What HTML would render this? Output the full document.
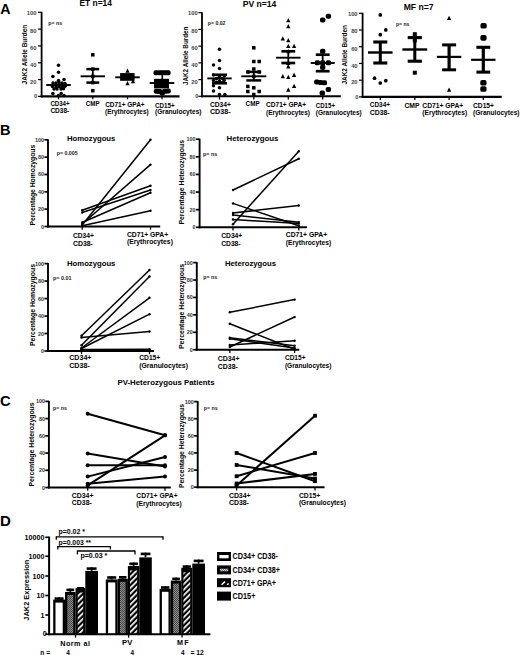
<!DOCTYPE html>
<html><head><meta charset="utf-8"><title>Figure</title>
<style>html,body{margin:0;padding:0;background:#fff;width:520px;height:655px;overflow:hidden}svg{display:block}text{font-family:"Liberation Sans",sans-serif}</style>
</head><body>
<svg width="520" height="655" viewBox="0 0 520 655" font-family='"Liberation Sans", sans-serif'>
<defs><pattern id="chk" width="2" height="2" patternUnits="userSpaceOnUse"><rect width="2" height="2" fill="#8c8c8c"/><rect width="1" height="1" fill="#474747"/><rect x="1" y="1" width="1" height="1" fill="#474747"/></pattern><pattern id="chk2" width="2" height="2" patternUnits="userSpaceOnUse"><rect width="2" height="2" fill="#d0d0d0"/><rect width="1" height="1" fill="#707070"/><rect x="1" y="1" width="1" height="1" fill="#707070"/></pattern><pattern id="hat" width="3.9" height="3.9" patternUnits="userSpaceOnUse" patternTransform="rotate(45)"><rect width="3.9" height="3.9" fill="#000"/><rect x="0" y="0" width="1.7" height="3.9" fill="#fff"/></pattern></defs>
<rect width="520" height="655" fill="#fff"/>
<text x="0.30" y="14.40" font-size="14.2" font-weight="bold" >A</text>
<line x1="41.60" y1="11.80" x2="41.60" y2="97.40" stroke="#000" stroke-width="1.8"/>
<line x1="40.60" y1="96.40" x2="179.60" y2="96.40" stroke="#000" stroke-width="2.1"/>
<line x1="38.00" y1="96.40" x2="41.60" y2="96.40" stroke="#000" stroke-width="1.2"/>
<text x="37.20" y="98.20" font-size="5.8" font-weight="bold" text-anchor="end" fill="#444">0</text>
<line x1="38.00" y1="79.58" x2="41.60" y2="79.58" stroke="#000" stroke-width="1.2"/>
<text x="36.40" y="83.68" font-size="5.8" font-weight="bold" text-anchor="end" fill="#444">20</text>
<line x1="38.00" y1="62.76" x2="41.60" y2="62.76" stroke="#000" stroke-width="1.2"/>
<text x="36.40" y="67.36" font-size="5.8" font-weight="bold" text-anchor="end" fill="#444">40</text>
<line x1="38.00" y1="45.94" x2="41.60" y2="45.94" stroke="#000" stroke-width="1.2"/>
<text x="36.40" y="50.04" font-size="5.8" font-weight="bold" text-anchor="end" fill="#444">60</text>
<line x1="38.00" y1="29.12" x2="41.60" y2="29.12" stroke="#000" stroke-width="1.2"/>
<text x="36.40" y="32.52" font-size="5.8" font-weight="bold" text-anchor="end" fill="#444">80</text>
<line x1="38.00" y1="12.30" x2="41.60" y2="12.30" stroke="#000" stroke-width="1.2"/>
<text x="36.40" y="14.90" font-size="5.8" font-weight="bold" text-anchor="end" fill="#444">100</text>
<text x="79.50" y="6.30" font-size="8.6" font-weight="bold" textLength="32.40" lengthAdjust="spacingAndGlyphs" >ET n=14</text>
<text x="48.20" y="25.30" font-size="6.2" font-weight="bold" textLength="13.90" lengthAdjust="spacingAndGlyphs" fill="#1a1a1a">p= ns</text>
<text x="26.88" y="54.60" font-size="6.6" font-weight="bold" text-anchor="middle" textLength="59.60" lengthAdjust="spacingAndGlyphs" transform="rotate(-90 26.88 54.60)" >JAK2 Allele Burden</text>
<line x1="58.50" y1="96.00" x2="58.50" y2="99.30" stroke="#000" stroke-width="1.3"/>
<line x1="92.80" y1="96.00" x2="92.80" y2="99.30" stroke="#000" stroke-width="1.3"/>
<line x1="127.50" y1="96.00" x2="127.50" y2="99.30" stroke="#000" stroke-width="1.3"/>
<line x1="162.00" y1="96.00" x2="162.00" y2="99.30" stroke="#000" stroke-width="1.3"/>
<circle cx="58.50" cy="65.20" r="1.75"/>
<circle cx="58.50" cy="72.30" r="1.75"/>
<circle cx="52.90" cy="76.50" r="1.75"/>
<circle cx="64.00" cy="79.40" r="1.75"/>
<circle cx="58.50" cy="80.60" r="1.75"/>
<circle cx="53.00" cy="83.00" r="1.75"/>
<circle cx="56.00" cy="83.00" r="1.75"/>
<circle cx="59.00" cy="82.60" r="1.75"/>
<circle cx="62.00" cy="83.00" r="1.75"/>
<circle cx="65.00" cy="83.40" r="1.75"/>
<circle cx="52.50" cy="86.50" r="1.75"/>
<circle cx="56.00" cy="87.00" r="1.75"/>
<circle cx="59.00" cy="86.50" r="1.75"/>
<circle cx="62.00" cy="87.30" r="1.75"/>
<circle cx="65.00" cy="86.20" r="1.75"/>
<circle cx="54.00" cy="89.00" r="1.75"/>
<circle cx="57.00" cy="89.00" r="1.75"/>
<circle cx="61.00" cy="89.00" r="1.75"/>
<circle cx="63.50" cy="88.80" r="1.75"/>
<circle cx="52.90" cy="93.50" r="1.75"/>
<circle cx="61.20" cy="93.50" r="1.75"/>
<circle cx="58.50" cy="95.60" r="1.75"/>
<circle cx="64.00" cy="95.60" r="1.75"/>
<line x1="46.20" y1="85.00" x2="70.80" y2="85.00" stroke="#000" stroke-width="1.9"/>
<rect x="91.05" y="53.05" width="3.50" height="3.50" fill="#000" />
<rect x="91.05" y="67.35" width="3.50" height="3.50" fill="#000" />
<rect x="91.05" y="74.55" width="3.50" height="3.50" fill="#000" />
<rect x="91.05" y="80.85" width="3.50" height="3.50" fill="#000" />
<rect x="91.05" y="88.95" width="3.50" height="3.50" fill="#000" />
<line x1="80.60" y1="76.30" x2="105.00" y2="76.30" stroke="#000" stroke-width="1.9"/>
<line x1="86.40" y1="69.10" x2="99.20" y2="69.10" stroke="#000" stroke-width="2.5"/>
<line x1="86.40" y1="82.60" x2="99.20" y2="82.60" stroke="#000" stroke-width="2.5"/>
<line x1="92.80" y1="69.10" x2="92.80" y2="82.60" stroke="#000" stroke-width="1.8"/>
<polygon points="127.50,68.42 129.65,72.68 125.35,72.68"/>
<polygon points="127.50,81.02 129.65,85.28 125.35,85.28"/>
<polygon points="133.00,78.92 135.15,83.18 130.85,83.18"/>
<line x1="115.20" y1="77.30" x2="139.80" y2="77.30" stroke="#000" stroke-width="1.9"/>
<rect x="120.10" y="73.10" width="14.50" height="7.70" fill="#000" />
<rect x="153.50" y="70.20" width="5.40" height="5.00" fill="#000" rx="1.9"/>
<rect x="156.80" y="70.20" width="5.40" height="5.00" fill="#000" rx="1.9"/>
<rect x="159.60" y="70.20" width="5.40" height="5.00" fill="#000" rx="1.9"/>
<rect x="162.50" y="70.20" width="5.40" height="5.00" fill="#000" rx="1.9"/>
<rect x="165.20" y="70.20" width="5.40" height="5.00" fill="#000" rx="1.9"/>
<rect x="153.80" y="88.70" width="5.40" height="5.00" fill="#000" rx="1.9"/>
<rect x="156.90" y="89.10" width="5.40" height="5.00" fill="#000" rx="1.9"/>
<rect x="162.10" y="88.80" width="5.40" height="5.00" fill="#000" rx="1.9"/>
<rect x="165.40" y="88.50" width="5.40" height="5.00" fill="#000" rx="1.9"/>
<rect x="159.60" y="90.50" width="5.40" height="5.00" fill="#000" rx="1.9"/>
<rect x="154.00" y="78.80" width="15.00" height="9.60" fill="#000" />
<line x1="162.30" y1="74.00" x2="162.30" y2="79.00" stroke="#000" stroke-width="1.6"/>
<line x1="149.70" y1="83.00" x2="174.30" y2="83.00" stroke="#000" stroke-width="1.9"/>
<line x1="202.00" y1="12.20" x2="202.00" y2="97.30" stroke="#000" stroke-width="1.8"/>
<line x1="201.00" y1="96.30" x2="340.80" y2="96.30" stroke="#000" stroke-width="2.1"/>
<line x1="198.40" y1="96.30" x2="202.00" y2="96.30" stroke="#000" stroke-width="1.2"/>
<text x="198.50" y="98.10" font-size="5.8" font-weight="bold" text-anchor="end" fill="#444">0</text>
<line x1="198.40" y1="79.58" x2="202.00" y2="79.58" stroke="#000" stroke-width="1.2"/>
<text x="197.70" y="83.68" font-size="5.8" font-weight="bold" text-anchor="end" fill="#444">20</text>
<line x1="198.40" y1="62.86" x2="202.00" y2="62.86" stroke="#000" stroke-width="1.2"/>
<text x="197.70" y="67.46" font-size="5.8" font-weight="bold" text-anchor="end" fill="#444">40</text>
<line x1="198.40" y1="46.14" x2="202.00" y2="46.14" stroke="#000" stroke-width="1.2"/>
<text x="197.70" y="50.24" font-size="5.8" font-weight="bold" text-anchor="end" fill="#444">60</text>
<line x1="198.40" y1="29.42" x2="202.00" y2="29.42" stroke="#000" stroke-width="1.2"/>
<text x="197.70" y="32.82" font-size="5.8" font-weight="bold" text-anchor="end" fill="#444">80</text>
<line x1="198.40" y1="12.70" x2="202.00" y2="12.70" stroke="#000" stroke-width="1.2"/>
<text x="197.70" y="15.30" font-size="5.8" font-weight="bold" text-anchor="end" fill="#444">100</text>
<text x="242.70" y="7.20" font-size="8.6" font-weight="bold" textLength="33.60" lengthAdjust="spacingAndGlyphs" >PV n=14</text>
<text x="207.80" y="24.60" font-size="6.2" font-weight="bold" textLength="17.60" lengthAdjust="spacingAndGlyphs" fill="#1a1a1a">p= 0.02</text>
<text x="187.88" y="55.80" font-size="6.6" font-weight="bold" text-anchor="middle" textLength="58.60" lengthAdjust="spacingAndGlyphs" transform="rotate(-90 187.88 55.80)" >JAK2 Allele Burden</text>
<line x1="219.50" y1="96.30" x2="219.50" y2="99.50" stroke="#000" stroke-width="1.3"/>
<line x1="253.80" y1="96.30" x2="253.80" y2="99.50" stroke="#000" stroke-width="1.3"/>
<line x1="288.30" y1="96.30" x2="288.30" y2="99.50" stroke="#000" stroke-width="1.3"/>
<line x1="322.70" y1="96.30" x2="322.70" y2="99.50" stroke="#000" stroke-width="1.3"/>
<circle cx="219.50" cy="49.20" r="1.75"/>
<circle cx="219.50" cy="60.50" r="1.75"/>
<circle cx="213.50" cy="64.90" r="1.75"/>
<circle cx="219.50" cy="68.50" r="1.75"/>
<circle cx="213.50" cy="75.00" r="1.75"/>
<circle cx="219.50" cy="76.50" r="1.75"/>
<circle cx="224.50" cy="76.00" r="1.75"/>
<circle cx="213.50" cy="80.40" r="1.75"/>
<circle cx="224.20" cy="80.40" r="1.75"/>
<circle cx="219.50" cy="81.00" r="1.75"/>
<circle cx="213.50" cy="85.80" r="1.75"/>
<circle cx="219.50" cy="87.80" r="1.75"/>
<circle cx="213.50" cy="90.90" r="1.75"/>
<circle cx="219.50" cy="94.50" r="1.75"/>
<circle cx="224.90" cy="94.50" r="1.75"/>
<circle cx="216.50" cy="78.50" r="1.75"/>
<circle cx="222.50" cy="78.50" r="1.75"/>
<circle cx="216.50" cy="82.30" r="1.75"/>
<circle cx="222.50" cy="82.50" r="1.75"/>
<line x1="207.30" y1="78.40" x2="231.70" y2="78.40" stroke="#000" stroke-width="1.9"/>
<line x1="212.00" y1="74.70" x2="227.00" y2="74.70" stroke="#000" stroke-width="2.5"/>
<line x1="212.00" y1="83.30" x2="227.00" y2="83.30" stroke="#000" stroke-width="2.5"/>
<line x1="219.50" y1="74.70" x2="219.50" y2="83.30" stroke="#000" stroke-width="1.8"/>
<rect x="252.05" y="46.05" width="3.50" height="3.50" fill="#000" />
<rect x="252.05" y="59.75" width="3.50" height="3.50" fill="#000" />
<rect x="257.45" y="59.75" width="3.50" height="3.50" fill="#000" />
<rect x="252.05" y="67.25" width="3.50" height="3.50" fill="#000" />
<rect x="246.25" y="70.25" width="3.50" height="3.50" fill="#000" />
<rect x="257.45" y="70.25" width="3.50" height="3.50" fill="#000" />
<rect x="252.05" y="74.55" width="3.50" height="3.50" fill="#000" />
<rect x="246.05" y="84.65" width="3.50" height="3.50" fill="#000" />
<rect x="252.05" y="86.05" width="3.50" height="3.50" fill="#000" />
<rect x="246.05" y="89.75" width="3.50" height="3.50" fill="#000" />
<rect x="257.45" y="89.75" width="3.50" height="3.50" fill="#000" />
<rect x="252.05" y="92.75" width="3.50" height="3.50" fill="#000" />
<line x1="241.30" y1="76.30" x2="266.30" y2="76.30" stroke="#000" stroke-width="1.9"/>
<line x1="246.40" y1="71.90" x2="261.20" y2="71.90" stroke="#000" stroke-width="2.5"/>
<line x1="246.40" y1="80.40" x2="261.20" y2="80.40" stroke="#000" stroke-width="2.5"/>
<line x1="253.80" y1="71.90" x2="253.80" y2="80.40" stroke="#000" stroke-width="1.8"/>
<polygon points="288.30,18.02 290.45,22.28 286.15,22.28"/>
<polygon points="288.30,23.92 290.45,28.18 286.15,28.18"/>
<polygon points="282.80,36.32 284.95,40.58 280.65,40.58"/>
<polygon points="288.30,38.02 290.45,42.28 286.15,42.28"/>
<polygon points="288.30,43.72 290.45,47.98 286.15,47.98"/>
<polygon points="294.10,43.72 296.25,47.98 291.95,47.98"/>
<polygon points="288.30,49.02 290.45,53.28 286.15,53.28"/>
<polygon points="288.30,60.72 290.45,64.98 286.15,64.98"/>
<polygon points="288.30,64.12 290.45,68.38 286.15,68.38"/>
<polygon points="282.80,74.02 284.95,78.28 280.65,78.28"/>
<polygon points="288.30,74.82 290.45,79.08 286.15,79.08"/>
<polygon points="294.10,72.62 296.25,76.88 291.95,76.88"/>
<polygon points="294.10,83.72 296.25,87.98 291.95,87.98"/>
<polygon points="288.30,87.52 290.45,91.78 286.15,91.78"/>
<line x1="276.10" y1="57.70" x2="300.50" y2="57.70" stroke="#000" stroke-width="1.9"/>
<line x1="281.40" y1="51.30" x2="295.20" y2="51.30" stroke="#000" stroke-width="2.7"/>
<line x1="281.40" y1="63.00" x2="295.20" y2="63.00" stroke="#000" stroke-width="2.7"/>
<line x1="288.30" y1="51.30" x2="288.30" y2="63.00" stroke="#000" stroke-width="1.8"/>
<rect x="320.00" y="17.40" width="5.40" height="5.00" fill="#000" rx="1.9"/>
<rect x="325.70" y="13.70" width="5.40" height="5.00" fill="#000" rx="1.9"/>
<rect x="320.00" y="48.80" width="5.40" height="5.00" fill="#000" rx="1.9"/>
<rect x="314.70" y="60.30" width="5.40" height="5.00" fill="#000" rx="1.9"/>
<rect x="320.00" y="60.30" width="5.40" height="5.00" fill="#000" rx="1.9"/>
<rect x="325.70" y="60.30" width="5.40" height="5.00" fill="#000" rx="1.9"/>
<rect x="320.00" y="64.80" width="5.40" height="5.00" fill="#000" rx="1.9"/>
<rect x="314.10" y="79.50" width="5.40" height="5.00" fill="#000" rx="1.9"/>
<rect x="317.80" y="80.00" width="5.40" height="5.00" fill="#000" rx="1.9"/>
<rect x="321.60" y="80.30" width="5.40" height="5.00" fill="#000" rx="1.9"/>
<rect x="325.70" y="86.90" width="5.40" height="5.00" fill="#000" rx="1.9"/>
<rect x="319.60" y="90.60" width="5.40" height="5.00" fill="#000" rx="1.9"/>
<line x1="310.70" y1="63.00" x2="334.70" y2="63.00" stroke="#000" stroke-width="1.9"/>
<line x1="315.80" y1="54.70" x2="329.60" y2="54.70" stroke="#000" stroke-width="2.7"/>
<line x1="315.80" y1="71.20" x2="329.60" y2="71.20" stroke="#000" stroke-width="2.7"/>
<line x1="322.70" y1="54.70" x2="322.70" y2="71.20" stroke="#000" stroke-width="1.8"/>
<line x1="362.60" y1="12.80" x2="362.60" y2="97.90" stroke="#000" stroke-width="1.8"/>
<line x1="361.60" y1="96.90" x2="501.70" y2="96.90" stroke="#000" stroke-width="2.1"/>
<line x1="359.00" y1="96.90" x2="362.60" y2="96.90" stroke="#000" stroke-width="1.2"/>
<text x="358.40" y="98.70" font-size="5.8" font-weight="bold" text-anchor="end" fill="#444">0</text>
<line x1="359.00" y1="80.18" x2="362.60" y2="80.18" stroke="#000" stroke-width="1.2"/>
<text x="357.60" y="84.28" font-size="5.8" font-weight="bold" text-anchor="end" fill="#444">20</text>
<line x1="359.00" y1="63.46" x2="362.60" y2="63.46" stroke="#000" stroke-width="1.2"/>
<text x="357.60" y="68.06" font-size="5.8" font-weight="bold" text-anchor="end" fill="#444">40</text>
<line x1="359.00" y1="46.74" x2="362.60" y2="46.74" stroke="#000" stroke-width="1.2"/>
<text x="357.60" y="50.84" font-size="5.8" font-weight="bold" text-anchor="end" fill="#444">60</text>
<line x1="359.00" y1="30.02" x2="362.60" y2="30.02" stroke="#000" stroke-width="1.2"/>
<text x="357.60" y="33.42" font-size="5.8" font-weight="bold" text-anchor="end" fill="#444">80</text>
<line x1="359.00" y1="13.30" x2="362.60" y2="13.30" stroke="#000" stroke-width="1.2"/>
<text x="357.60" y="15.90" font-size="5.8" font-weight="bold" text-anchor="end" fill="#444">100</text>
<text x="403.70" y="9.60" font-size="8.4" font-weight="bold" textLength="29.80" lengthAdjust="spacingAndGlyphs" >MF n=7</text>
<text x="396.00" y="25.70" font-size="6.2" font-weight="bold" textLength="13.40" lengthAdjust="spacingAndGlyphs" fill="#1a1a1a">p= ns</text>
<text x="347.28" y="54.80" font-size="6.6" font-weight="bold" text-anchor="middle" textLength="59.40" lengthAdjust="spacingAndGlyphs" transform="rotate(-90 347.28 54.80)" >JAK2 Allele Burden</text>
<line x1="380.30" y1="96.80" x2="380.30" y2="100.00" stroke="#000" stroke-width="1.3"/>
<line x1="414.80" y1="96.80" x2="414.80" y2="100.00" stroke="#000" stroke-width="1.3"/>
<line x1="449.10" y1="96.80" x2="449.10" y2="100.00" stroke="#000" stroke-width="1.3"/>
<line x1="483.30" y1="96.80" x2="483.30" y2="100.00" stroke="#000" stroke-width="1.3"/>
<circle cx="380.30" cy="14.90" r="1.85"/>
<circle cx="385.80" cy="29.90" r="1.85"/>
<circle cx="380.30" cy="34.70" r="1.85"/>
<circle cx="374.50" cy="78.20" r="1.85"/>
<circle cx="380.30" cy="83.00" r="1.85"/>
<circle cx="385.80" cy="80.70" r="1.85"/>
<line x1="368.00" y1="52.50" x2="392.60" y2="52.50" stroke="#000" stroke-width="2.4"/>
<line x1="373.30" y1="42.00" x2="387.30" y2="42.00" stroke="#000" stroke-width="3.1"/>
<line x1="373.30" y1="63.00" x2="387.30" y2="63.00" stroke="#000" stroke-width="3.1"/>
<line x1="380.30" y1="42.00" x2="380.30" y2="63.00" stroke="#000" stroke-width="3.0"/>
<rect x="412.80" y="32.20" width="4.00" height="4.00" fill="#000" />
<rect x="412.80" y="38.40" width="4.00" height="4.00" fill="#000" />
<rect x="412.80" y="70.70" width="4.00" height="4.00" fill="#000" />
<line x1="402.40" y1="49.50" x2="427.20" y2="49.50" stroke="#000" stroke-width="2.4"/>
<line x1="407.70" y1="37.60" x2="421.90" y2="37.60" stroke="#000" stroke-width="3.1"/>
<line x1="407.70" y1="61.20" x2="421.90" y2="61.20" stroke="#000" stroke-width="3.1"/>
<line x1="414.80" y1="37.60" x2="414.80" y2="61.20" stroke="#000" stroke-width="3.0"/>
<polygon points="449.10,15.72 451.25,19.98 446.95,19.98"/>
<polygon points="449.10,87.52 451.25,91.78 446.95,91.78"/>
<line x1="436.90" y1="56.90" x2="461.30" y2="56.90" stroke="#000" stroke-width="2.2"/>
<line x1="442.10" y1="44.90" x2="456.10" y2="44.90" stroke="#000" stroke-width="3.0"/>
<line x1="442.10" y1="69.80" x2="456.10" y2="69.80" stroke="#000" stroke-width="3.0"/>
<line x1="449.10" y1="44.90" x2="449.10" y2="69.80" stroke="#000" stroke-width="3.2"/>
<rect x="480.45" y="23.00" width="6.30" height="5.60" fill="#000" rx="1.9"/>
<rect x="480.35" y="35.10" width="6.30" height="5.60" fill="#000" rx="1.9"/>
<rect x="480.25" y="80.00" width="6.30" height="5.60" fill="#000" rx="1.9"/>
<rect x="480.25" y="86.20" width="6.30" height="5.60" fill="#000" rx="1.9"/>
<line x1="471.10" y1="59.80" x2="495.50" y2="59.80" stroke="#000" stroke-width="2.2"/>
<line x1="476.40" y1="47.30" x2="490.20" y2="47.30" stroke="#000" stroke-width="3.1"/>
<line x1="476.40" y1="72.10" x2="490.20" y2="72.10" stroke="#000" stroke-width="3.1"/>
<line x1="483.30" y1="47.30" x2="483.30" y2="72.10" stroke="#000" stroke-width="3.2"/>
<text x="50.40" y="105.50" font-size="6.4" font-weight="bold" textLength="19.20" lengthAdjust="spacingAndGlyphs" >CD34+</text>
<text x="50.40" y="113.20" font-size="6.4" font-weight="bold" textLength="18.90" lengthAdjust="spacingAndGlyphs" >CD38-</text>
<text x="85.80" y="105.50" font-size="6.4" font-weight="bold" textLength="13.80" lengthAdjust="spacingAndGlyphs" >CMP</text>
<text x="105.20" y="106.90" font-size="6.4" font-weight="bold" textLength="39.40" lengthAdjust="spacingAndGlyphs" >CD71+ GPA+</text>
<text x="105.00" y="114.00" font-size="6.4" font-weight="bold" textLength="43.60" lengthAdjust="spacingAndGlyphs" >(Erythrocytes)</text>
<text x="155.00" y="107.60" font-size="6.4" font-weight="bold" textLength="19.60" lengthAdjust="spacingAndGlyphs" >CD15+</text>
<text x="155.00" y="114.30" font-size="6.4" font-weight="bold" textLength="46.50" lengthAdjust="spacingAndGlyphs" >(Granulocytes)</text>
<text x="210.00" y="106.70" font-size="6.4" font-weight="bold" textLength="20.80" lengthAdjust="spacingAndGlyphs" >CD34+</text>
<text x="210.00" y="114.40" font-size="6.4" font-weight="bold" textLength="20.50" lengthAdjust="spacingAndGlyphs" >CD38-</text>
<text x="245.60" y="105.60" font-size="6.4" font-weight="bold" textLength="14.00" lengthAdjust="spacingAndGlyphs" >CMP</text>
<text x="266.00" y="107.30" font-size="6.4" font-weight="bold" textLength="40.00" lengthAdjust="spacingAndGlyphs" >CD71+ GPA+</text>
<text x="266.00" y="114.80" font-size="6.4" font-weight="bold" textLength="44.00" lengthAdjust="spacingAndGlyphs" >(Erythrocytes)</text>
<text x="315.80" y="107.60" font-size="6.4" font-weight="bold" textLength="19.20" lengthAdjust="spacingAndGlyphs" >CD15+</text>
<text x="315.80" y="114.80" font-size="6.4" font-weight="bold" textLength="46.00" lengthAdjust="spacingAndGlyphs" >(Granulocytes)</text>
<text x="369.80" y="106.90" font-size="6.4" font-weight="bold" textLength="20.20" lengthAdjust="spacingAndGlyphs" >CD34+</text>
<text x="369.80" y="114.70" font-size="6.4" font-weight="bold" textLength="19.80" lengthAdjust="spacingAndGlyphs" >CD38-</text>
<text x="404.40" y="108.40" font-size="6.4" font-weight="bold" textLength="15.00" lengthAdjust="spacingAndGlyphs" >CMP</text>
<text x="422.30" y="107.50" font-size="6.4" font-weight="bold" textLength="41.00" lengthAdjust="spacingAndGlyphs" >CD71+ GPA+</text>
<text x="422.30" y="114.80" font-size="6.4" font-weight="bold" textLength="44.80" lengthAdjust="spacingAndGlyphs" >(Erythrocytes)</text>
<text x="473.00" y="107.70" font-size="6.4" font-weight="bold" textLength="21.00" lengthAdjust="spacingAndGlyphs" >CD15+</text>
<text x="473.00" y="114.90" font-size="6.4" font-weight="bold" textLength="46.50" lengthAdjust="spacingAndGlyphs" >(Granulocytes)</text>
<text x="-0.10" y="134.60" font-size="14.5" font-weight="bold" >B</text>
<line x1="48.00" y1="139.30" x2="48.00" y2="227.50" stroke="#000" stroke-width="1.9"/>
<line x1="47.00" y1="226.50" x2="160.20" y2="226.50" stroke="#000" stroke-width="2.0"/>
<line x1="44.40" y1="226.50" x2="48.00" y2="226.50" stroke="#000" stroke-width="1.7"/>
<text x="44.00" y="228.50" font-size="5.4" font-weight="bold" text-anchor="end" fill="#333">0</text>
<line x1="44.40" y1="209.16" x2="48.00" y2="209.16" stroke="#000" stroke-width="1.7"/>
<text x="44.00" y="211.16" font-size="5.4" font-weight="bold" text-anchor="end" fill="#333">20</text>
<line x1="44.40" y1="191.82" x2="48.00" y2="191.82" stroke="#000" stroke-width="1.7"/>
<text x="44.00" y="193.82" font-size="5.4" font-weight="bold" text-anchor="end" fill="#333">40</text>
<line x1="44.40" y1="174.48" x2="48.00" y2="174.48" stroke="#000" stroke-width="1.7"/>
<text x="44.00" y="176.48" font-size="5.4" font-weight="bold" text-anchor="end" fill="#333">60</text>
<line x1="44.40" y1="157.14" x2="48.00" y2="157.14" stroke="#000" stroke-width="1.7"/>
<text x="44.00" y="159.14" font-size="5.4" font-weight="bold" text-anchor="end" fill="#333">80</text>
<line x1="44.40" y1="139.80" x2="48.00" y2="139.80" stroke="#000" stroke-width="1.7"/>
<text x="44.00" y="141.80" font-size="5.4" font-weight="bold" text-anchor="end" fill="#333">100</text>
<line x1="82.20" y1="226.50" x2="82.20" y2="229.70" stroke="#000" stroke-width="1.3"/>
<line x1="150.50" y1="226.50" x2="150.50" y2="229.70" stroke="#000" stroke-width="1.3"/>
<text x="66.90" y="140.60" font-size="7.4" font-weight="bold" textLength="48.50" lengthAdjust="spacingAndGlyphs" >Homozygous</text>
<text x="56.70" y="155.40" font-size="6.2" font-weight="bold" textLength="21.00" lengthAdjust="spacingAndGlyphs" fill="#1a1a1a">p= 0.005</text>
<text x="34.90" y="185.20" font-size="6.4" font-weight="bold" text-anchor="middle" textLength="80.80" lengthAdjust="spacingAndGlyphs" transform="rotate(-90 34.90 185.20)" >Percentage Homozygous</text>
<line x1="82.20" y1="225.00" x2="150.50" y2="139.70" stroke="#000" stroke-width="1.5"/>
<line x1="82.20" y1="224.00" x2="150.50" y2="164.60" stroke="#000" stroke-width="1.5"/>
<line x1="82.20" y1="210.20" x2="150.50" y2="185.80" stroke="#000" stroke-width="1.5"/>
<line x1="82.20" y1="212.50" x2="150.50" y2="190.00" stroke="#000" stroke-width="1.5"/>
<line x1="82.20" y1="222.50" x2="150.50" y2="192.80" stroke="#000" stroke-width="1.5"/>
<line x1="82.20" y1="225.80" x2="150.50" y2="210.80" stroke="#000" stroke-width="1.5"/>
<circle cx="82.20" cy="225.00" r="1.2"/>
<circle cx="150.50" cy="139.70" r="1.2"/>
<circle cx="82.20" cy="224.00" r="1.2"/>
<circle cx="150.50" cy="164.60" r="1.2"/>
<circle cx="82.20" cy="210.20" r="1.2"/>
<circle cx="150.50" cy="185.80" r="1.2"/>
<circle cx="82.20" cy="212.50" r="1.2"/>
<circle cx="150.50" cy="190.00" r="1.2"/>
<circle cx="82.20" cy="222.50" r="1.2"/>
<circle cx="150.50" cy="192.80" r="1.2"/>
<circle cx="82.20" cy="225.80" r="1.2"/>
<circle cx="150.50" cy="210.80" r="1.2"/>
<text x="72.90" y="237.60" font-size="6.4" font-weight="bold" textLength="21.00" lengthAdjust="spacingAndGlyphs" >CD34+</text>
<text x="72.90" y="245.70" font-size="6.4" font-weight="bold" textLength="20.00" lengthAdjust="spacingAndGlyphs" >CD38-</text>
<text x="126.90" y="236.50" font-size="6.4" font-weight="bold" textLength="41.30" lengthAdjust="spacingAndGlyphs" >CD71+ GPA+</text>
<text x="126.90" y="244.40" font-size="6.4" font-weight="bold" textLength="46.00" lengthAdjust="spacingAndGlyphs" >(Erythrocytes)</text>
<line x1="199.60" y1="138.70" x2="199.60" y2="228.30" stroke="#000" stroke-width="1.9"/>
<line x1="198.60" y1="227.30" x2="307.00" y2="227.30" stroke="#000" stroke-width="2.0"/>
<line x1="196.00" y1="227.30" x2="199.60" y2="227.30" stroke="#000" stroke-width="1.7"/>
<text x="195.60" y="229.30" font-size="5.4" font-weight="bold" text-anchor="end" fill="#333">0</text>
<line x1="196.00" y1="209.68" x2="199.60" y2="209.68" stroke="#000" stroke-width="1.7"/>
<text x="195.60" y="211.68" font-size="5.4" font-weight="bold" text-anchor="end" fill="#333">20</text>
<line x1="196.00" y1="192.06" x2="199.60" y2="192.06" stroke="#000" stroke-width="1.7"/>
<text x="195.60" y="194.06" font-size="5.4" font-weight="bold" text-anchor="end" fill="#333">40</text>
<line x1="196.00" y1="174.44" x2="199.60" y2="174.44" stroke="#000" stroke-width="1.7"/>
<text x="195.60" y="176.44" font-size="5.4" font-weight="bold" text-anchor="end" fill="#333">60</text>
<line x1="196.00" y1="156.82" x2="199.60" y2="156.82" stroke="#000" stroke-width="1.7"/>
<text x="195.60" y="158.82" font-size="5.4" font-weight="bold" text-anchor="end" fill="#333">80</text>
<line x1="196.00" y1="139.20" x2="199.60" y2="139.20" stroke="#000" stroke-width="1.7"/>
<text x="195.60" y="141.20" font-size="5.4" font-weight="bold" text-anchor="end" fill="#333">100</text>
<line x1="233.00" y1="227.30" x2="233.00" y2="230.50" stroke="#000" stroke-width="1.3"/>
<line x1="298.80" y1="227.30" x2="298.80" y2="230.50" stroke="#000" stroke-width="1.3"/>
<text x="226.50" y="140.60" font-size="7.4" font-weight="bold" textLength="52.00" lengthAdjust="spacingAndGlyphs" >Heterozygous</text>
<text x="203.00" y="156.20" font-size="6.2" font-weight="bold" textLength="14.30" lengthAdjust="spacingAndGlyphs" fill="#1a1a1a">p= ns</text>
<text x="183.70" y="182.30" font-size="6.4" font-weight="bold" text-anchor="middle" textLength="84.60" lengthAdjust="spacingAndGlyphs" transform="rotate(-90 183.70 182.30)" >Percentage Heterozygous</text>
<line x1="233.00" y1="190.00" x2="298.80" y2="158.80" stroke="#000" stroke-width="1.5"/>
<line x1="233.00" y1="224.20" x2="298.80" y2="151.20" stroke="#000" stroke-width="1.5"/>
<line x1="233.00" y1="203.40" x2="298.80" y2="225.80" stroke="#000" stroke-width="1.5"/>
<line x1="233.00" y1="213.00" x2="298.80" y2="205.50" stroke="#000" stroke-width="1.5"/>
<line x1="233.00" y1="215.00" x2="298.80" y2="222.30" stroke="#000" stroke-width="1.5"/>
<line x1="233.00" y1="219.50" x2="298.80" y2="223.50" stroke="#000" stroke-width="1.5"/>
<circle cx="233.00" cy="190.00" r="1.2"/>
<circle cx="298.80" cy="158.80" r="1.2"/>
<circle cx="233.00" cy="224.20" r="1.2"/>
<circle cx="298.80" cy="151.20" r="1.2"/>
<circle cx="233.00" cy="203.40" r="1.2"/>
<circle cx="298.80" cy="225.80" r="1.2"/>
<circle cx="233.00" cy="213.00" r="1.2"/>
<circle cx="298.80" cy="205.50" r="1.2"/>
<circle cx="233.00" cy="215.00" r="1.2"/>
<circle cx="298.80" cy="222.30" r="1.2"/>
<circle cx="233.00" cy="219.50" r="1.2"/>
<circle cx="298.80" cy="223.50" r="1.2"/>
<text x="221.20" y="237.60" font-size="6.4" font-weight="bold" textLength="21.10" lengthAdjust="spacingAndGlyphs" >CD34+</text>
<text x="221.20" y="245.70" font-size="6.4" font-weight="bold" textLength="19.40" lengthAdjust="spacingAndGlyphs" >CD38-</text>
<text x="285.80" y="236.80" font-size="6.4" font-weight="bold" textLength="41.30" lengthAdjust="spacingAndGlyphs" >CD71+ GPA+</text>
<text x="285.80" y="244.90" font-size="6.4" font-weight="bold" textLength="45.40" lengthAdjust="spacingAndGlyphs" >(Erythrocytes)</text>
<line x1="48.00" y1="263.10" x2="48.00" y2="352.00" stroke="#000" stroke-width="1.9"/>
<line x1="47.00" y1="351.00" x2="154.00" y2="351.00" stroke="#000" stroke-width="2.0"/>
<line x1="44.40" y1="351.00" x2="48.00" y2="351.00" stroke="#000" stroke-width="1.7"/>
<text x="44.00" y="353.00" font-size="5.4" font-weight="bold" text-anchor="end" fill="#333">0</text>
<line x1="44.40" y1="333.52" x2="48.00" y2="333.52" stroke="#000" stroke-width="1.7"/>
<text x="44.00" y="335.52" font-size="5.4" font-weight="bold" text-anchor="end" fill="#333">20</text>
<line x1="44.40" y1="316.04" x2="48.00" y2="316.04" stroke="#000" stroke-width="1.7"/>
<text x="44.00" y="318.04" font-size="5.4" font-weight="bold" text-anchor="end" fill="#333">40</text>
<line x1="44.40" y1="298.56" x2="48.00" y2="298.56" stroke="#000" stroke-width="1.7"/>
<text x="44.00" y="300.56" font-size="5.4" font-weight="bold" text-anchor="end" fill="#333">60</text>
<line x1="44.40" y1="281.08" x2="48.00" y2="281.08" stroke="#000" stroke-width="1.7"/>
<text x="44.00" y="283.08" font-size="5.4" font-weight="bold" text-anchor="end" fill="#333">80</text>
<line x1="44.40" y1="263.60" x2="48.00" y2="263.60" stroke="#000" stroke-width="1.7"/>
<text x="44.00" y="265.60" font-size="5.4" font-weight="bold" text-anchor="end" fill="#333">100</text>
<line x1="81.50" y1="351.00" x2="81.50" y2="354.20" stroke="#000" stroke-width="1.3"/>
<line x1="149.50" y1="351.00" x2="149.50" y2="354.20" stroke="#000" stroke-width="1.3"/>
<text x="67.00" y="265.60" font-size="7.4" font-weight="bold" textLength="48.40" lengthAdjust="spacingAndGlyphs" >Homozygous</text>
<text x="53.00" y="279.80" font-size="6.2" font-weight="bold" textLength="18.50" lengthAdjust="spacingAndGlyphs" fill="#1a1a1a">p= 0.01</text>
<text x="34.50" y="305.00" font-size="6.4" font-weight="bold" text-anchor="middle" textLength="82.00" lengthAdjust="spacingAndGlyphs" transform="rotate(-90 34.50 305.00)" >Percentage Homozygous</text>
<line x1="81.50" y1="335.80" x2="149.50" y2="270.00" stroke="#000" stroke-width="1.5"/>
<line x1="81.50" y1="337.50" x2="149.50" y2="331.50" stroke="#000" stroke-width="1.5"/>
<line x1="81.50" y1="345.30" x2="149.50" y2="276.50" stroke="#000" stroke-width="1.5"/>
<line x1="81.50" y1="348.00" x2="149.50" y2="297.80" stroke="#000" stroke-width="1.5"/>
<line x1="81.50" y1="348.50" x2="149.50" y2="314.20" stroke="#000" stroke-width="1.5"/>
<line x1="81.50" y1="349.50" x2="149.50" y2="349.20" stroke="#000" stroke-width="1.5"/>
<line x1="81.50" y1="349.80" x2="149.50" y2="350.40" stroke="#000" stroke-width="1.5"/>
<circle cx="81.50" cy="335.80" r="1.2"/>
<circle cx="149.50" cy="270.00" r="1.2"/>
<circle cx="81.50" cy="337.50" r="1.2"/>
<circle cx="149.50" cy="331.50" r="1.2"/>
<circle cx="81.50" cy="345.30" r="1.2"/>
<circle cx="149.50" cy="276.50" r="1.2"/>
<circle cx="81.50" cy="348.00" r="1.2"/>
<circle cx="149.50" cy="297.80" r="1.2"/>
<circle cx="81.50" cy="348.50" r="1.2"/>
<circle cx="149.50" cy="314.20" r="1.2"/>
<circle cx="81.50" cy="349.50" r="1.2"/>
<circle cx="149.50" cy="349.20" r="1.2"/>
<circle cx="81.50" cy="349.80" r="1.2"/>
<circle cx="149.50" cy="350.40" r="1.2"/>
<text x="69.20" y="360.40" font-size="7.0" font-weight="bold" textLength="22.30" lengthAdjust="spacingAndGlyphs" >CD34+</text>
<text x="69.20" y="367.90" font-size="7.0" font-weight="bold" textLength="20.60" lengthAdjust="spacingAndGlyphs" >CD38-</text>
<text x="139.20" y="360.20" font-size="6.8" font-weight="bold" textLength="21.10" lengthAdjust="spacingAndGlyphs" >CD15+</text>
<text x="139.20" y="367.80" font-size="6.8" font-weight="bold" textLength="48.80" lengthAdjust="spacingAndGlyphs" >(Granulocytes)</text>
<line x1="196.80" y1="262.10" x2="196.80" y2="350.70" stroke="#000" stroke-width="1.9"/>
<line x1="195.80" y1="349.70" x2="299.30" y2="349.70" stroke="#000" stroke-width="2.0"/>
<line x1="193.20" y1="349.70" x2="196.80" y2="349.70" stroke="#000" stroke-width="1.7"/>
<text x="192.80" y="351.70" font-size="5.4" font-weight="bold" text-anchor="end" fill="#333">0</text>
<line x1="193.20" y1="332.28" x2="196.80" y2="332.28" stroke="#000" stroke-width="1.7"/>
<text x="192.80" y="334.28" font-size="5.4" font-weight="bold" text-anchor="end" fill="#333">20</text>
<line x1="193.20" y1="314.86" x2="196.80" y2="314.86" stroke="#000" stroke-width="1.7"/>
<text x="192.80" y="316.86" font-size="5.4" font-weight="bold" text-anchor="end" fill="#333">40</text>
<line x1="193.20" y1="297.44" x2="196.80" y2="297.44" stroke="#000" stroke-width="1.7"/>
<text x="192.80" y="299.44" font-size="5.4" font-weight="bold" text-anchor="end" fill="#333">60</text>
<line x1="193.20" y1="280.02" x2="196.80" y2="280.02" stroke="#000" stroke-width="1.7"/>
<text x="192.80" y="282.02" font-size="5.4" font-weight="bold" text-anchor="end" fill="#333">80</text>
<line x1="193.20" y1="262.60" x2="196.80" y2="262.60" stroke="#000" stroke-width="1.7"/>
<text x="192.80" y="264.60" font-size="5.4" font-weight="bold" text-anchor="end" fill="#333">100</text>
<line x1="229.80" y1="349.70" x2="229.80" y2="352.90" stroke="#000" stroke-width="1.3"/>
<line x1="294.60" y1="349.70" x2="294.60" y2="352.90" stroke="#000" stroke-width="1.3"/>
<text x="225.00" y="265.60" font-size="7.4" font-weight="bold" textLength="51.00" lengthAdjust="spacingAndGlyphs" >Heterozygous</text>
<text x="203.30" y="278.60" font-size="6.2" font-weight="bold" textLength="14.00" lengthAdjust="spacingAndGlyphs" fill="#1a1a1a">p= ns</text>
<text x="183.80" y="306.40" font-size="6.4" font-weight="bold" text-anchor="middle" textLength="85.20" lengthAdjust="spacingAndGlyphs" transform="rotate(-90 183.80 306.40)" >Percentage Heterozygous</text>
<line x1="229.80" y1="312.30" x2="294.60" y2="299.60" stroke="#000" stroke-width="1.5"/>
<line x1="229.80" y1="323.80" x2="294.60" y2="349.20" stroke="#000" stroke-width="1.5"/>
<line x1="229.80" y1="347.00" x2="294.60" y2="317.00" stroke="#000" stroke-width="1.5"/>
<line x1="229.80" y1="345.00" x2="294.60" y2="340.70" stroke="#000" stroke-width="1.5"/>
<line x1="229.80" y1="337.70" x2="294.60" y2="345.80" stroke="#000" stroke-width="1.5"/>
<line x1="229.80" y1="338.80" x2="294.60" y2="348.00" stroke="#000" stroke-width="1.5"/>
<circle cx="229.80" cy="312.30" r="1.2"/>
<circle cx="294.60" cy="299.60" r="1.2"/>
<circle cx="229.80" cy="323.80" r="1.2"/>
<circle cx="294.60" cy="349.20" r="1.2"/>
<circle cx="229.80" cy="347.00" r="1.2"/>
<circle cx="294.60" cy="317.00" r="1.2"/>
<circle cx="229.80" cy="345.00" r="1.2"/>
<circle cx="294.60" cy="340.70" r="1.2"/>
<circle cx="229.80" cy="337.70" r="1.2"/>
<circle cx="294.60" cy="345.80" r="1.2"/>
<circle cx="229.80" cy="338.80" r="1.2"/>
<circle cx="294.60" cy="348.00" r="1.2"/>
<text x="217.80" y="361.00" font-size="6.4" font-weight="bold" textLength="21.70" lengthAdjust="spacingAndGlyphs" >CD34+</text>
<text x="217.80" y="368.70" font-size="6.4" font-weight="bold" textLength="20.00" lengthAdjust="spacingAndGlyphs" >CD38-</text>
<text x="284.90" y="359.50" font-size="6.4" font-weight="bold" textLength="20.60" lengthAdjust="spacingAndGlyphs" >CD15+</text>
<text x="284.90" y="367.90" font-size="6.4" font-weight="bold" textLength="46.60" lengthAdjust="spacingAndGlyphs" >(Granulocytes)</text>
<text x="0.00" y="406.40" font-size="14.7" font-weight="bold" >C</text>
<text x="117.50" y="384.90" font-size="7.6" font-weight="bold" textLength="97.00" lengthAdjust="spacingAndGlyphs" >PV-Heterozygous Patients</text>
<line x1="48.90" y1="400.90" x2="48.90" y2="488.50" stroke="#000" stroke-width="1.9"/>
<line x1="47.90" y1="487.50" x2="170.80" y2="487.50" stroke="#000" stroke-width="2.0"/>
<line x1="45.30" y1="487.50" x2="48.90" y2="487.50" stroke="#000" stroke-width="1.7"/>
<text x="44.90" y="489.50" font-size="5.4" font-weight="bold" text-anchor="end" fill="#333">0</text>
<line x1="45.30" y1="470.28" x2="48.90" y2="470.28" stroke="#000" stroke-width="1.7"/>
<text x="44.90" y="472.28" font-size="5.4" font-weight="bold" text-anchor="end" fill="#333">20</text>
<line x1="45.30" y1="453.06" x2="48.90" y2="453.06" stroke="#000" stroke-width="1.7"/>
<text x="44.90" y="455.06" font-size="5.4" font-weight="bold" text-anchor="end" fill="#333">40</text>
<line x1="45.30" y1="435.84" x2="48.90" y2="435.84" stroke="#000" stroke-width="1.7"/>
<text x="44.90" y="437.84" font-size="5.4" font-weight="bold" text-anchor="end" fill="#333">60</text>
<line x1="45.30" y1="418.62" x2="48.90" y2="418.62" stroke="#000" stroke-width="1.7"/>
<text x="44.90" y="420.62" font-size="5.4" font-weight="bold" text-anchor="end" fill="#333">80</text>
<line x1="45.30" y1="401.40" x2="48.90" y2="401.40" stroke="#000" stroke-width="1.7"/>
<text x="44.90" y="403.40" font-size="5.4" font-weight="bold" text-anchor="end" fill="#333">100</text>
<line x1="87.70" y1="487.50" x2="87.70" y2="490.70" stroke="#000" stroke-width="1.3"/>
<line x1="165.00" y1="487.50" x2="165.00" y2="490.70" stroke="#000" stroke-width="1.3"/>
<text x="53.00" y="410.40" font-size="6.2" font-weight="bold" textLength="14.00" lengthAdjust="spacingAndGlyphs" fill="#1a1a1a">p= ns</text>
<text x="34.30" y="444.50" font-size="6.4" font-weight="bold" text-anchor="middle" textLength="84.20" lengthAdjust="spacingAndGlyphs" transform="rotate(-90 34.30 444.50)" >Percentage Heterozygous</text>
<line x1="87.70" y1="413.80" x2="165.00" y2="435.30" stroke="#000" stroke-width="2.0"/>
<line x1="87.70" y1="453.50" x2="165.00" y2="466.50" stroke="#000" stroke-width="2.0"/>
<line x1="87.70" y1="465.30" x2="165.00" y2="465.30" stroke="#000" stroke-width="2.0"/>
<line x1="87.70" y1="476.60" x2="165.00" y2="457.00" stroke="#000" stroke-width="2.0"/>
<line x1="87.70" y1="485.40" x2="165.00" y2="435.30" stroke="#000" stroke-width="2.0"/>
<line x1="87.70" y1="483.80" x2="165.00" y2="476.60" stroke="#000" stroke-width="2.0"/>
<circle cx="87.70" cy="413.80" r="2.0"/>
<circle cx="165.00" cy="435.30" r="2.0"/>
<circle cx="87.70" cy="453.50" r="2.0"/>
<circle cx="165.00" cy="466.50" r="2.0"/>
<circle cx="87.70" cy="465.30" r="2.0"/>
<circle cx="165.00" cy="465.30" r="2.0"/>
<circle cx="87.70" cy="476.60" r="2.0"/>
<circle cx="165.00" cy="457.00" r="2.0"/>
<circle cx="87.70" cy="485.40" r="2.0"/>
<circle cx="165.00" cy="435.30" r="2.0"/>
<circle cx="87.70" cy="483.80" r="2.0"/>
<circle cx="165.00" cy="476.60" r="2.0"/>
<text x="71.80" y="497.50" font-size="6.4" font-weight="bold" textLength="21.70" lengthAdjust="spacingAndGlyphs" >CD34+</text>
<text x="71.80" y="505.30" font-size="6.4" font-weight="bold" textLength="20.00" lengthAdjust="spacingAndGlyphs" >CD38-</text>
<text x="136.30" y="497.50" font-size="6.4" font-weight="bold" textLength="41.30" lengthAdjust="spacingAndGlyphs" >CD71+ GPA+</text>
<text x="136.30" y="505.50" font-size="6.4" font-weight="bold" textLength="45.40" lengthAdjust="spacingAndGlyphs" >(Erythrocytes)</text>
<line x1="197.70" y1="401.10" x2="197.70" y2="488.20" stroke="#000" stroke-width="1.9"/>
<line x1="196.70" y1="487.20" x2="324.60" y2="487.20" stroke="#000" stroke-width="2.0"/>
<line x1="194.10" y1="487.20" x2="197.70" y2="487.20" stroke="#000" stroke-width="1.7"/>
<text x="193.70" y="489.20" font-size="5.4" font-weight="bold" text-anchor="end" fill="#333">0</text>
<line x1="194.10" y1="470.08" x2="197.70" y2="470.08" stroke="#000" stroke-width="1.7"/>
<text x="193.70" y="472.08" font-size="5.4" font-weight="bold" text-anchor="end" fill="#333">20</text>
<line x1="194.10" y1="452.96" x2="197.70" y2="452.96" stroke="#000" stroke-width="1.7"/>
<text x="193.70" y="454.96" font-size="5.4" font-weight="bold" text-anchor="end" fill="#333">40</text>
<line x1="194.10" y1="435.84" x2="197.70" y2="435.84" stroke="#000" stroke-width="1.7"/>
<text x="193.70" y="437.84" font-size="5.4" font-weight="bold" text-anchor="end" fill="#333">60</text>
<line x1="194.10" y1="418.72" x2="197.70" y2="418.72" stroke="#000" stroke-width="1.7"/>
<text x="193.70" y="420.72" font-size="5.4" font-weight="bold" text-anchor="end" fill="#333">80</text>
<line x1="194.10" y1="401.60" x2="197.70" y2="401.60" stroke="#000" stroke-width="1.7"/>
<text x="193.70" y="403.60" font-size="5.4" font-weight="bold" text-anchor="end" fill="#333">100</text>
<line x1="236.60" y1="487.20" x2="236.60" y2="490.40" stroke="#000" stroke-width="1.3"/>
<line x1="315.00" y1="487.20" x2="315.00" y2="490.40" stroke="#000" stroke-width="1.3"/>
<text x="203.80" y="410.40" font-size="6.2" font-weight="bold" textLength="13.90" lengthAdjust="spacingAndGlyphs" fill="#1a1a1a">p= ns</text>
<text x="183.50" y="446.00" font-size="6.4" font-weight="bold" text-anchor="middle" textLength="84.00" lengthAdjust="spacingAndGlyphs" transform="rotate(-90 183.50 446.00)" >Percentage Heterozygous</text>
<line x1="236.60" y1="485.40" x2="315.00" y2="415.70" stroke="#000" stroke-width="2.0"/>
<line x1="236.60" y1="476.20" x2="315.00" y2="453.00" stroke="#000" stroke-width="2.0"/>
<line x1="236.60" y1="453.00" x2="315.00" y2="481.20" stroke="#000" stroke-width="2.0"/>
<line x1="236.60" y1="465.00" x2="315.00" y2="478.50" stroke="#000" stroke-width="2.0"/>
<line x1="236.60" y1="483.50" x2="315.00" y2="473.90" stroke="#000" stroke-width="2.0"/>
<rect x="234.70" y="483.50" width="3.80" height="3.80" fill="#000" />
<rect x="313.10" y="413.80" width="3.80" height="3.80" fill="#000" />
<rect x="234.70" y="474.30" width="3.80" height="3.80" fill="#000" />
<rect x="313.10" y="451.10" width="3.80" height="3.80" fill="#000" />
<rect x="234.70" y="451.10" width="3.80" height="3.80" fill="#000" />
<rect x="313.10" y="479.30" width="3.80" height="3.80" fill="#000" />
<rect x="234.70" y="463.10" width="3.80" height="3.80" fill="#000" />
<rect x="313.10" y="476.60" width="3.80" height="3.80" fill="#000" />
<rect x="234.70" y="481.60" width="3.80" height="3.80" fill="#000" />
<rect x="313.10" y="472.00" width="3.80" height="3.80" fill="#000" />
<text x="228.90" y="497.50" font-size="6.4" font-weight="bold" textLength="21.70" lengthAdjust="spacingAndGlyphs" >CD34+</text>
<text x="228.90" y="505.40" font-size="6.4" font-weight="bold" textLength="20.00" lengthAdjust="spacingAndGlyphs" >CD38-</text>
<text x="298.90" y="497.50" font-size="6.4" font-weight="bold" textLength="21.20" lengthAdjust="spacingAndGlyphs" >CD15+</text>
<text x="298.90" y="505.30" font-size="6.4" font-weight="bold" textLength="47.10" lengthAdjust="spacingAndGlyphs" >(Granulocytes)</text>
<text x="-0.10" y="525.80" font-size="15.0" font-weight="bold" >D</text>
<line x1="49.10" y1="536.60" x2="49.10" y2="635.20" stroke="#000" stroke-width="2.0"/>
<line x1="48.10" y1="634.20" x2="210.40" y2="634.20" stroke="#000" stroke-width="2.0"/>
<line x1="45.30" y1="634.20" x2="49.10" y2="634.20" stroke="#000" stroke-width="1.6"/>
<text x="46.80" y="635.90" font-size="7.2" font-weight="bold" text-anchor="end" >0</text>
<line x1="45.30" y1="615.00" x2="49.10" y2="615.00" stroke="#000" stroke-width="1.6"/>
<text x="44.60" y="617.60" font-size="7.2" font-weight="bold" text-anchor="end" >1</text>
<line x1="45.30" y1="595.50" x2="49.10" y2="595.50" stroke="#000" stroke-width="1.6"/>
<text x="44.60" y="598.10" font-size="7.2" font-weight="bold" text-anchor="end" >10</text>
<line x1="45.30" y1="576.00" x2="49.10" y2="576.00" stroke="#000" stroke-width="1.6"/>
<text x="44.60" y="578.60" font-size="7.2" font-weight="bold" text-anchor="end" >100</text>
<line x1="45.30" y1="556.20" x2="49.10" y2="556.20" stroke="#000" stroke-width="1.6"/>
<text x="44.60" y="558.80" font-size="7.2" font-weight="bold" text-anchor="end" >1000</text>
<line x1="45.30" y1="537.30" x2="49.10" y2="537.30" stroke="#000" stroke-width="1.6"/>
<text x="44.60" y="539.90" font-size="7.2" font-weight="bold" text-anchor="end" >10000</text>
<text x="28.96" y="590.20" font-size="7.4" font-weight="bold" text-anchor="middle" textLength="61.00" lengthAdjust="spacingAndGlyphs" transform="rotate(-90 28.96 590.20)" >JAK2 Expression</text>
<line x1="75.50" y1="634.20" x2="75.50" y2="637.60" stroke="#000" stroke-width="1.3"/>
<line x1="128.60" y1="634.20" x2="128.60" y2="637.60" stroke="#000" stroke-width="1.3"/>
<line x1="182.10" y1="634.20" x2="182.10" y2="637.60" stroke="#000" stroke-width="1.3"/>
<text x="60.30" y="645.60" font-size="7.2" font-weight="bold" textLength="29.60" lengthAdjust="spacing" >Norm al</text>
<text x="122.00" y="644.80" font-size="7.2" font-weight="bold" textLength="10.30" lengthAdjust="spacingAndGlyphs" >PV</text>
<text x="177.00" y="645.20" font-size="7.2" font-weight="bold" textLength="11.70" lengthAdjust="spacing" >M F</text>
<text x="40.30" y="654.90" font-size="7.2" font-weight="bold" textLength="9.70" lengthAdjust="spacingAndGlyphs" >n =</text>
<text x="66.20" y="654.90" font-size="7.2" font-weight="bold" textLength="3.60" lengthAdjust="spacingAndGlyphs" >4</text>
<text x="130.50" y="654.90" font-size="7.2" font-weight="bold" textLength="3.60" lengthAdjust="spacingAndGlyphs" >4</text>
<text x="180.90" y="654.90" font-size="7.2" font-weight="bold" textLength="3.60" lengthAdjust="spacingAndGlyphs" >4</text>
<text x="190.40" y="654.90" font-size="7.2" font-weight="bold" textLength="13.40" lengthAdjust="spacingAndGlyphs" >= 12</text>
<rect x="53.20" y="599.60" width="11.80" height="34.60" fill="#000" />
<rect x="55.50" y="602.60" width="7.20" height="30.60" fill="#fff" />
<line x1="59.10" y1="597.30" x2="59.10" y2="599.60" stroke="#000" stroke-width="1.8"/>
<rect x="54.60" y="597.30" width="9.00" height="2.60" fill="#000" />
<rect x="65.00" y="592.00" width="10.60" height="42.20" fill="#000" />
<rect x="67.30" y="595.00" width="6.00" height="38.20" fill="url(#chk)" />
<line x1="70.30" y1="588.60" x2="70.30" y2="592.00" stroke="#000" stroke-width="1.8"/>
<rect x="66.40" y="588.60" width="7.80" height="2.60" fill="#000" />
<rect x="75.60" y="588.00" width="9.70" height="46.20" fill="#000" />
<rect x="77.70" y="592.50" width="5.50" height="40.70" fill="url(#hat)" />
<line x1="80.45" y1="587.00" x2="80.45" y2="588.00" stroke="#000" stroke-width="1.8"/>
<rect x="77.00" y="587.00" width="6.90" height="2.60" fill="#000" />
<rect x="85.30" y="570.90" width="12.70" height="63.30" fill="#000" />
<line x1="91.65" y1="567.30" x2="91.65" y2="570.90" stroke="#000" stroke-width="1.8"/>
<rect x="86.70" y="567.30" width="9.90" height="2.60" fill="#000" />
<rect x="105.80" y="579.40" width="11.80" height="54.80" fill="#000" />
<rect x="108.10" y="582.40" width="7.20" height="50.80" fill="#fff" />
<line x1="111.70" y1="576.20" x2="111.70" y2="579.40" stroke="#000" stroke-width="1.8"/>
<rect x="107.20" y="576.20" width="9.00" height="2.60" fill="#000" />
<rect x="117.60" y="578.80" width="10.30" height="55.40" fill="#000" />
<rect x="119.90" y="581.80" width="5.70" height="51.40" fill="url(#chk)" />
<line x1="122.75" y1="576.00" x2="122.75" y2="578.80" stroke="#000" stroke-width="1.8"/>
<rect x="119.00" y="576.00" width="7.50" height="2.60" fill="#000" />
<rect x="127.90" y="566.00" width="11.40" height="68.20" fill="#000" />
<rect x="130.00" y="570.50" width="7.20" height="62.70" fill="url(#hat)" />
<line x1="133.60" y1="562.50" x2="133.60" y2="566.00" stroke="#000" stroke-width="1.8"/>
<rect x="129.30" y="562.50" width="8.60" height="2.60" fill="#000" />
<rect x="139.30" y="557.40" width="12.50" height="76.80" fill="#000" />
<line x1="145.55" y1="552.60" x2="145.55" y2="557.40" stroke="#000" stroke-width="1.8"/>
<rect x="140.70" y="552.60" width="9.70" height="2.60" fill="#000" />
<rect x="159.60" y="588.80" width="11.20" height="45.40" fill="#000" />
<rect x="161.90" y="591.80" width="6.60" height="41.40" fill="#fff" />
<line x1="165.20" y1="586.20" x2="165.20" y2="588.80" stroke="#000" stroke-width="1.8"/>
<rect x="161.00" y="586.20" width="8.40" height="2.60" fill="#000" />
<rect x="170.80" y="580.60" width="10.50" height="53.60" fill="#000" />
<rect x="173.10" y="583.60" width="5.90" height="49.60" fill="url(#chk)" />
<line x1="176.05" y1="577.60" x2="176.05" y2="580.60" stroke="#000" stroke-width="1.8"/>
<rect x="172.20" y="577.60" width="7.70" height="2.60" fill="#000" />
<rect x="181.30" y="567.80" width="11.00" height="66.40" fill="#000" />
<rect x="183.40" y="572.30" width="6.80" height="60.90" fill="url(#hat)" />
<line x1="186.80" y1="565.30" x2="186.80" y2="567.80" stroke="#000" stroke-width="1.8"/>
<rect x="182.70" y="565.30" width="8.20" height="2.60" fill="#000" />
<rect x="192.30" y="563.60" width="12.70" height="70.60" fill="#000" />
<line x1="198.65" y1="559.60" x2="198.65" y2="563.60" stroke="#000" stroke-width="1.8"/>
<rect x="193.70" y="559.60" width="9.90" height="2.60" fill="#000" />
<line x1="56.30" y1="536.80" x2="163.00" y2="536.80" stroke="#000" stroke-width="1.3"/>
<line x1="56.30" y1="536.20" x2="56.30" y2="539.80" stroke="#000" stroke-width="1.3"/>
<line x1="163.00" y1="536.20" x2="163.00" y2="539.80" stroke="#000" stroke-width="1.3"/>
<text x="58.50" y="534.20" font-size="6.6" font-weight="bold" textLength="26.50" lengthAdjust="spacingAndGlyphs" >p=0.02 *</text>
<line x1="57.80" y1="546.60" x2="110.40" y2="546.60" stroke="#000" stroke-width="1.3"/>
<line x1="57.80" y1="546.00" x2="57.80" y2="549.50" stroke="#000" stroke-width="1.3"/>
<line x1="110.40" y1="546.00" x2="110.40" y2="549.50" stroke="#000" stroke-width="1.3"/>
<text x="58.50" y="545.20" font-size="6.6" font-weight="bold" textLength="32.50" lengthAdjust="spacingAndGlyphs" >p=0.003 **</text>
<line x1="77.40" y1="551.00" x2="135.00" y2="551.00" stroke="#000" stroke-width="1.3"/>
<line x1="77.40" y1="550.40" x2="77.40" y2="554.40" stroke="#000" stroke-width="1.3"/>
<line x1="135.00" y1="550.40" x2="135.00" y2="554.40" stroke="#000" stroke-width="1.3"/>
<text x="80.40" y="557.90" font-size="6.6" font-weight="bold" textLength="27.00" lengthAdjust="spacingAndGlyphs" >p=0.03 *</text>
<rect x="217.00" y="552.00" width="14.00" height="9.00" fill="#000" />
<rect x="219.40" y="555.00" width="9.20" height="3.30" fill="#fff" />
<text x="232.50" y="559.30" font-size="8.4" font-weight="bold" textLength="45.50" lengthAdjust="spacingAndGlyphs" >CD34+ CD38-</text>
<rect x="217.00" y="565.40" width="14.00" height="9.00" fill="#000" />
<rect x="220.00" y="568.70" width="8.20" height="2.60" fill="url(#chk2)" />
<text x="232.50" y="572.70" font-size="8.4" font-weight="bold" textLength="47.50" lengthAdjust="spacingAndGlyphs" >CD34+ CD38+</text>
<rect x="217.00" y="578.20" width="14.00" height="9.00" fill="#000" />
<line x1="221.60" y1="584.80" x2="225.00" y2="581.60" stroke="#fff" stroke-width="1.5"/>
<line x1="227.00" y1="584.80" x2="228.80" y2="583.40" stroke="#fff" stroke-width="1.3"/>
<text x="232.50" y="585.50" font-size="8.4" font-weight="bold" textLength="43.50" lengthAdjust="spacingAndGlyphs" >CD71+ GPA+</text>
<rect x="217.00" y="591.60" width="14.00" height="9.00" fill="#000" />
<text x="232.50" y="598.90" font-size="8.4" font-weight="bold" textLength="22.90" lengthAdjust="spacingAndGlyphs" >CD15+</text>
</svg>
</body></html>
